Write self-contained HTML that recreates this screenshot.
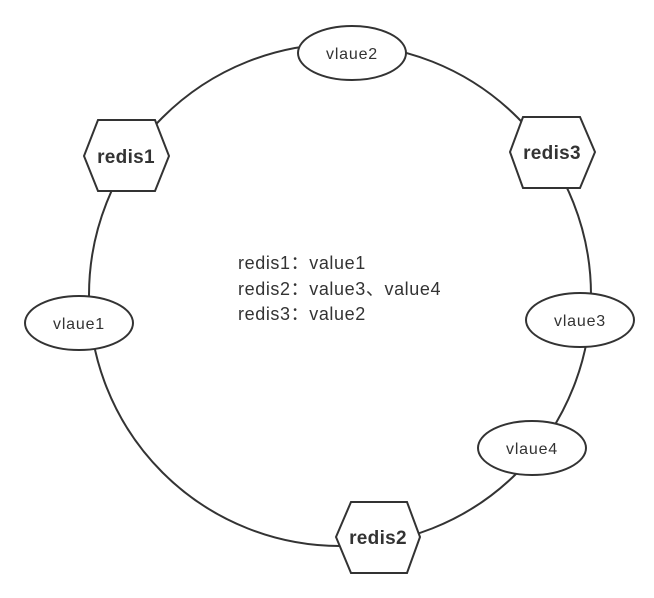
<!DOCTYPE html>
<html><head><meta charset="utf-8"><style>
html,body{margin:0;padding:0;background:#fff;}
svg{display:block;}
text{font-family:"Liberation Sans","Noto Sans CJK SC",sans-serif;fill:#333;}
</style></head><body>
<svg width="654" height="598" viewBox="0 0 654 598" xmlns="http://www.w3.org/2000/svg">
<circle cx="340" cy="295" r="251" fill="none" stroke="#333" stroke-width="2"/>
<g fill="#fff" stroke="#333" stroke-width="2">
<ellipse cx="352" cy="53" rx="54" ry="27"/>
<ellipse cx="79" cy="323" rx="54" ry="27"/>
<ellipse cx="580" cy="320" rx="54" ry="27"/>
<ellipse cx="532" cy="448" rx="54" ry="27"/>
<polygon points="98,120 155,120 169,156 155,191 98,191 84,156"/>
<polygon points="523,117 580,117 595,152 580,188 523,188 510,152"/>
<polygon points="351,502 407,502 420,537 407,573 351,573 336,537"/>
</g>
<g font-size="16" text-anchor="middle" letter-spacing="0.8">
<text x="352" y="59">vlaue2</text>
<text x="79" y="329">vlaue1</text>
<text x="580" y="326">vlaue3</text>
<text x="532" y="454">vlaue4</text>
</g>
<g font-size="19" font-weight="bold" text-anchor="middle" letter-spacing="0.3">
<text x="126" y="163">redis1</text>
<text x="552" y="159">redis3</text>
<text x="378" y="544">redis2</text>
</g>
<g font-size="18" letter-spacing="0.6">
<text x="238" y="269">redis1：value1</text>
<text x="238" y="295">redis2：value3、value4</text>
<text x="238" y="320">redis3：value2</text>
</g>
</svg>
</body></html>
